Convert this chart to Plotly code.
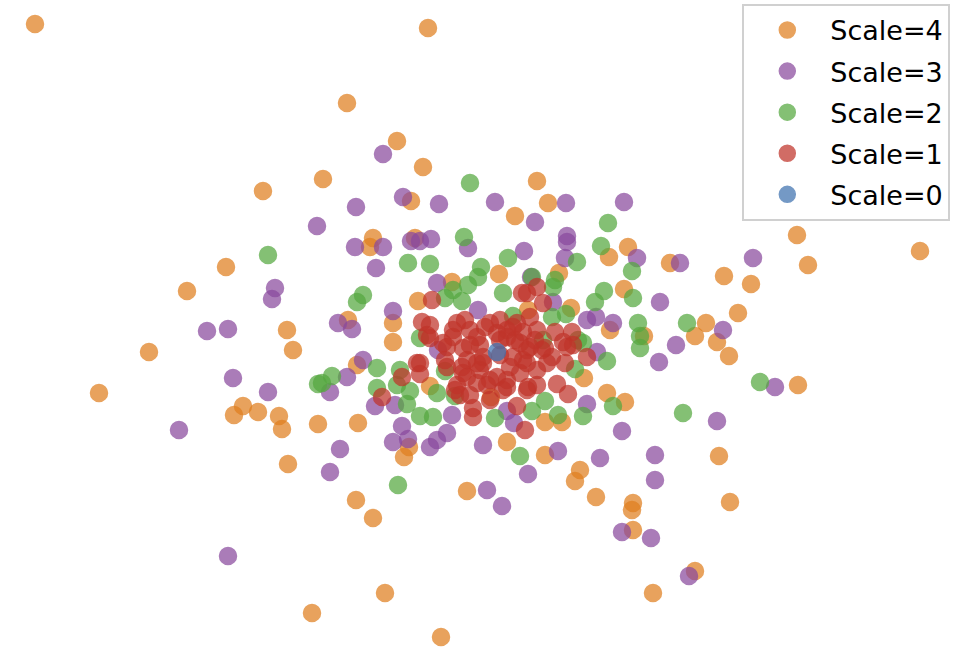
import plotly.graph_objects as go

# scale 4 (outermost)
x4 = [-4.62, -0.69, -1.50, -1.00, -2.34, -1.74, -0.74, 0.40, 0.51, 0.18, -0.86, -1.24, -1.27, -0.82, 1.31, 1.12,
      0.62, 0.02, -0.45, -0.79, 0.74, 1.27, -1.04, -1.04, -1.49, -2.71, -3.10, -2.10, 3.00, 4.23, 3.11, 1.73,
      2.27, 2.54, 2.41, 2.09, -2.04, -3.48, -3.98, -2.54, -2.63, -2.39, -2.18, -2.15, -1.79, -2.09, -1.85, -1.40,
      -1.39, -0.93, -0.88, -0.30, -1.41, -1.24, -1.12, -0.56, 0.10, 0.48, 0.83, 0.78, 0.99, 1.36, 1.35, 1.36,
      0.87, 1.10, 1.28, 0.48, 0.65, -0.06, -0.67, 1.13, 0.31, 1.47, 1.98, 2.20, 2.32, 3.01, 2.22, 2.33, 1.98, 1.56]
y4 = [3.28, 3.24, 2.49, 2.11, 1.61, 1.73, 1.85, 1.71, 1.49, 1.36, 1.51, 1.14, 1.05, 1.14, 1.05, 0.95,
      0.79, 0.78, 0.70, 0.51, 0.44, 0.63, 0.29, 0.10, 0.32, 0.85, 0.61, 0.22, 1.17, 1.01, 0.87, 0.89,
      0.76, 0.68, 0.39, 0.29, 0.02, 0.00, -0.41, -0.54, -0.63, -0.60, -0.64, -0.77, -0.72, -1.12, -2.61, -0.13,
      -0.71, -1.05, -0.95, -1.39, -1.48, -1.66, -2.41, -2.85, -0.90, -1.03, -1.18, -1.29, -1.45, -1.51, -1.58, -1.78,
      -0.26, -0.41, -0.50, -0.70, -0.70, -0.45, -0.34, 0.22, 0.42, 0.16, 0.16, 0.10, -0.04, -0.33, -1.04, -1.50, -2.19, -2.41]

# scale 3
x3 = [-1.14, -0.94, -1.41, -0.58, -0.02, 0.69, 1.27, 0.38, 0.70, 0.70, 0.68, 0.27, -0.29, -1.42, -1.14, -0.86,
      -0.77, -0.66, -1.21, -0.60, 0.34, 0.56, -1.04, -1.59, -1.45, 0.90, 0.99, 1.16, 1.40, 1.83, 2.56, 1.63,
      2.26, -1.80, -2.22, -2.25, -2.90, -2.69, -2.64, -2.29, -3.18, -2.69, -1.34, -1.50, -1.67, -1.22, -1.02, -0.95,
      -0.89, -1.04, -0.67, -0.60, -0.50, -0.45, -1.57, -1.67, -0.14, -0.10, 0.05, 0.31, 0.61, 0.90, 1.25, 1.03,
      1.25, 0.10, 0.17, 1.00, 1.79, 1.62, 2.78, 2.20, 1.58, 1.58, 1.54, 1.92, -0.19, -0.59]
y3 = [1.98, 1.55, 1.45, 1.48, 1.50, 1.49, 1.50, 1.30, 1.16, 1.10, 0.94, 1.01, 1.04, 1.05, 1.05, 1.11,
      1.11, 1.13, 0.84, 0.69, 0.75, 0.50, 0.41, 0.29, 0.23, 0.32, 0.35, 0.29, 0.94, 0.89, 0.94, 0.50,
      0.22, 1.26, 0.64, 0.53, 0.21, 0.23, -0.26, -0.40, -0.78, -2.04, -0.08, -0.25, -0.40, -0.54, -0.53, -0.74,
      -0.87, -0.90, -0.95, -0.88, -0.81, -0.63, -0.97, -1.20, -0.93, -1.38, -1.54, -1.22, -0.99, -0.52, -0.79, -1.06,
      -1.80, -0.59, -0.71, 0.00, 0.07, -0.10, -0.35, -0.69, -1.03, -1.28, -1.86, -2.24, 0.42, 0.02]

# scale 2
x2 = [-0.27, 1.11, -0.33, 1.04, 0.80, 1.35, 0.11, -0.16, -0.19, -0.29, -0.44, -0.52, -0.35, -0.89, -0.67, -1.34,
      -1.40, 0.06, 0.58, 0.56, 1.07, 0.98, 1.36, 0.69, 0.16, 0.55, 1.41, 0.35, -2.29, 1.90, 1.43, 1.43,
      -1.79, -1.65, -1.75, -1.20, -1.20, -0.97, -1.00, -0.87, -0.90, -0.77, -0.64, -0.60, -0.42, -0.77, -0.52, -0.02,
      0.23, -0.99, 0.35, 0.48, 0.61, 0.86, 1.10, 1.16, 0.78, 0.81, 0.46, 0.86, 2.63, 1.86]
y2 = [1.69, 1.29, 1.15, 1.06, 0.90, 0.81, 0.94, 0.85, 0.75, 0.67, 0.62, 0.54, 0.51, 0.89, 0.88, 0.57,
      0.50, 0.59, 0.72, 0.65, 0.61, 0.50, 0.54, 0.38, 0.36, 0.35, 0.29, 0.75, 0.97, 0.29, 0.16, 0.04,
      -0.32, -0.24, -0.31, -0.16, -0.36, -0.18, -0.33, -0.39, -0.52, -0.64, -0.65, -0.41, -0.44, 0.14, -0.19, -0.66,
      -1.04, -1.33, -0.59, -0.49, -0.63, -0.64, -0.09, -0.54, -0.17, 0.12, 0.12, 0.09, -0.30, -0.61]

# scale 1 (dense core)
x1 = [-0.65, -0.75, -0.67, -0.70, -0.32, -0.44, -0.50, -0.52, -0.80, -0.95, -0.77, -0.30, -0.20, -0.07, -0.34, -0.14,
      -0.40, 0.25, 0.40, 0.46, 0.33, 0.03, 0.20, 0.58, 0.75, 0.66, 0.76, 0.48, 0.55, 0.68, 0.90, 0.60,
      0.40, 0.26, 0.13, 0.00, -1.15, -0.24, -0.24, 0.20, 0.28, 0.71, -0.67, -0.50, 0.40, 0.30, -0.10, 0.10,
      -0.20, 0.30, -0.34, 0.40, 0.10, -0.27, 0.06, -0.17, 0.18, -0.37, -0.07, 0.03,
      -0.40, 0.16, 0.26, -0.54, -0.35, -0.17, 0.23, -0.07, 0.10, -0.20, -0.30, 0.33, 0.23, -0.44, 0.10,
      -0.14, 0.16, 0.30, 0.00, -0.12, -0.77, -0.42, 0.31, 0.70, 0.45, 0.50, 0.30, -0.27, 0.38, 0.03, -0.27]
y1 = [0.52, 0.30, 0.27, 0.17, 0.32, 0.22, 0.05, -0.08, -0.11, -0.25, -0.22, -0.08, 0.15, 0.29, -0.21, -0.11,
      -0.33, 0.59, 0.65, 0.49, 0.35, 0.32, 0.29, 0.20, 0.20, 0.10, 0.07, 0.04, -0.05, -0.11, -0.05, -0.32,
      -0.18, -0.08, -0.15, -0.25, -0.45, -0.56, -0.65, -0.54, -0.78, -0.42, 0.14, -0.15, -0.33, -0.38, -0.33, -0.28,
      -0.11, 0.02, 0.04, 0.22, 0.22, 0.22, -0.38, 0.07, 0.12, -0.43, -0.48, -0.03,
      0.29, 0.25, 0.20, 0.09, -0.15, -0.18, -0.21, -0.28, -0.35, -0.31, -0.25, 0.05, 0.09, 0.15, 0.15,
      -0.05, -0.05, -0.11, 0.19, 0.25, -0.11, -0.38, -0.35, 0.05, 0.02, -0.11, 0.59, 0.07, 0.12, 0.12, -0.43]

# scale 0
x0 = [0.0]
y0 = [0.0]

series = [
    ('Scale=4', x4, y4, '#e07f1f'),
    ('Scale=3', x3, y3, '#8a4a9e'),
    ('Scale=2', x2, y2, '#55a840'),
    ('Scale=1', x1, y1, '#c0342a'),
    ('Scale=0', x0, y0, '#3f72b0'),
]

fig = go.Figure()
for name, xs, ys, col in series:
    # one legend group per trace so tracegroupgap spaces the rows out a bit
    fig.add_trace(go.Scatter(x=xs, y=ys, mode='markers', name=name, legendgroup=name,
                             marker=dict(size=17, color=col, opacity=0.72,
                                         line=dict(color=col, width=1.5))))

fig.update_layout(
    width=957, height=653,
    margin=dict(l=0, r=0, t=0, b=0),
    plot_bgcolor='white', paper_bgcolor='white',
    xaxis=dict(range=[-4.97, 4.60], visible=False),
    yaxis=dict(range=[-3.01, 3.52], visible=False),
    font=dict(family='DejaVu Sans', color='black'),
    legend=dict(x=0.993, y=0.994, xanchor='right', yanchor='top',
                bgcolor='rgba(255,255,255,0.85)', bordercolor='#d0d0d0', borderwidth=2,
                font=dict(size=27), itemwidth=76, tracegroupgap=3),
)

# page has a default 8px body margin; drop it so the figure sits at the window corner
fig.write_html("out.html", config={'displayModeBar': False},
               post_script="document.body.style.margin='0';")
